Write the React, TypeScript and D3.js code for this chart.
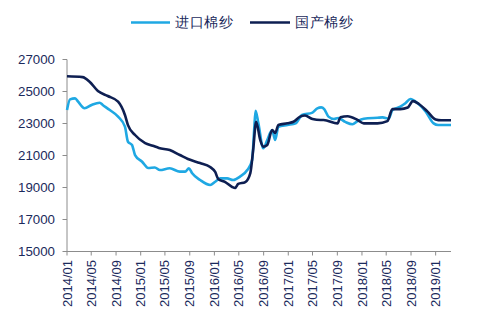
import React from "react";
import * as d3 from "d3";

const importDates = [
  "2014-01-01","2014-01-16","2014-02-10","2014-02-25","2014-03-29","2014-05-03","2014-06-12","2014-06-27",
  "2014-08-01","2014-09-11","2014-10-15","2014-10-30","2014-11-19","2014-12-04","2015-01-08","2015-02-07",
  "2015-03-12","2015-04-06","2015-05-25","2015-07-14","2015-08-09","2015-08-28","2015-09-13","2015-10-22",
  "2015-12-11","2016-01-05","2016-01-30","2016-03-04","2016-04-03","2016-05-07","2016-06-12","2016-07-06",
  "2016-07-16","2016-07-23","2016-08-06","2016-08-30","2016-09-19","2016-10-13","2016-10-28","2016-11-13",
  "2016-12-28","2017-02-07","2017-03-10","2017-05-01","2017-05-25","2017-06-13","2017-06-28","2017-07-19",
  "2017-08-15","2017-09-05","2017-10-10","2017-11-15","2017-12-10","2018-01-10","2018-03-19","2018-04-13",
  "2018-05-13","2018-06-01","2018-07-10","2018-08-04","2018-08-29","2018-10-04","2018-11-13","2018-12-22",
  "2019-01-13","2019-03-18"
];
const importValues = [
  23840,24510,24570,24360,23950,24160,24300,24160,
  23840,23430,22800,21860,21660,21030,20610,20220,
  20250,20090,20200,19990,19990,20200,19890,19470,
  19160,19360,19570,19570,19470,19680,20090,20720,
  22590,23800,23010,21450,21970,22590,21970,22800,
  22910,23010,23530,23680,23950,24010,23900,23430,
  23280,23340,23100,22950,23150,23300,23360,23380,
  23300,23840,24050,24260,24530,24260,23740,23010,
  22910,22910
];

const domesticDates = [
  "2014-01-01","2014-03-19","2014-04-23","2014-06-03","2014-07-22","2014-09-11","2014-10-15","2014-10-30",
  "2014-12-04","2015-01-23","2015-03-02","2015-04-01","2015-05-25","2015-07-14","2015-08-23","2015-10-22",
  "2015-12-11","2016-01-05","2016-01-20","2016-02-24","2016-03-29","2016-04-13","2016-04-28","2016-06-02",
  "2016-06-27","2016-07-11","2016-07-26","2016-08-15","2016-08-30","2016-09-19","2016-10-13","2016-10-28",
  "2016-11-13","2016-12-28","2017-01-27","2017-03-01","2017-03-25","2017-05-01","2017-06-10","2017-06-25",
  "2017-09-02","2017-09-16","2017-10-22","2017-12-10","2018-01-10","2018-03-19","2018-05-07","2018-06-01",
  "2018-07-10","2018-08-16","2018-09-10","2018-10-10","2018-11-22","2019-01-01","2019-01-28","2019-03-18"
];
const domesticValues = [
  25950,25900,25610,25030,24720,24360,23530,22900,
  22280,21780,21610,21470,21340,21030,20780,20530,
  20280,19970,19530,19340,19030,18970,19220,19340,
  19900,21340,23100,21970,21550,21660,22590,22400,
  22910,23010,23110,23430,23500,23280,23220,23220,
  23010,23390,23450,23220,23010,23010,23150,23900,
  23900,24000,24400,24220,23740,23250,23200,23200
];

const yTicks = [15000, 17000, 19000, 21000, 23000, 25000, 27000];
const xTickLabels = [
  "2014/01","2014/05","2014/09","2015/01","2015/05","2015/09","2016/01","2016/05",
  "2016/09","2017/01","2017/05","2017/09","2018/01","2018/05","2018/09","2019/01"
];
const seriesNames = ["进口棉纱", "国产棉纱"];

const W = 478, H = 323;
const IMPORT_COLOR = "#1FA8E3";
const DOMESTIC_COLOR = "#0E1F52";
const TEXT_COLOR = "#1B2A5C";
const AXIS_COLOR = "#8C8C8C";

const parse = d3.timeParse("%Y-%m-%d");
const parseTick = d3.timeParse("%Y/%m");

export default function App() {
  const x = d3.scaleTime()
    .domain([parse("2014-01-01")!, parse("2019-03-18")!])
    .range([67, 451]);
  const y = d3.scaleLinear().domain([15000, 27000]).range([251.5, 59.5]);

  const imp = importDates.map((d, i) => ({ d: parse(d)!, v: importValues[i] }));
  const dom = domesticDates.map((d, i) => ({ d: parse(d)!, v: domesticValues[i] }));
  const line = d3.line<{ d: Date; v: number }>()
    .x(p => x(p.d))
    .y(p => y(p.v))
    .curve(d3.curveMonotoneX);

  const font = "'Liberation Sans', Arial, sans-serif";

  return (
    <svg width={W} height={H} style={{ position: "absolute", left: 0, top: 0, background: "#fff" }}>
      {/* legend */}
      <g fontFamily={font} fontSize={14} fill={TEXT_COLOR}>
        <line x1={131} x2={170} y1={22.5} y2={22.5} stroke={IMPORT_COLOR} strokeWidth={2.5} />
        <text x={175} y={22.5} dy="0.35em" letterSpacing={0.5}>{seriesNames[0]}</text>
        <line x1={250} x2={290} y1={22.5} y2={22.5} stroke={DOMESTIC_COLOR} strokeWidth={2.5} />
        <text x={295} y={22.5} dy="0.35em" letterSpacing={0.5}>{seriesNames[1]}</text>
      </g>

      {/* y axis */}
      <line x1={67} x2={67} y1={y(27000)} y2={y(15000)} stroke={AXIS_COLOR} strokeWidth={1} />
      {yTicks.map(t => (
        <g key={t}>
          <line x1={62.5} x2={67} y1={y(t)} y2={y(t)} stroke={AXIS_COLOR} />
          <text x={55} y={y(t)} dy="0.35em" textAnchor="end" fontFamily={font} fontSize={13.3} fill={TEXT_COLOR}>{t}</text>
        </g>
      ))}

      {/* x axis */}
      <line x1={67} x2={451} y1={y(15000)} y2={y(15000)} stroke={AXIS_COLOR} strokeWidth={1} />
      {xTickLabels.map(lbl => {
        const xx = x(parseTick(lbl)!);
        return (
          <g key={lbl}>
            <line x1={xx} x2={xx} y1={y(15000)} y2={y(15000) + 4} stroke={AXIS_COLOR} />
            <text transform={`translate(${xx},${260}) rotate(-90)`} dy="0.35em" textAnchor="end"
              fontFamily={font} fontSize={13} fill={TEXT_COLOR}>{lbl}</text>
          </g>
        );
      })}

      {/* lines */}
      <path d={line(imp)!} fill="none" stroke={IMPORT_COLOR} strokeWidth={2.6} strokeLinejoin="round" />
      <path d={line(dom)!} fill="none" stroke={DOMESTIC_COLOR} strokeWidth={2.6} strokeLinejoin="round" />
    </svg>
  );
}
